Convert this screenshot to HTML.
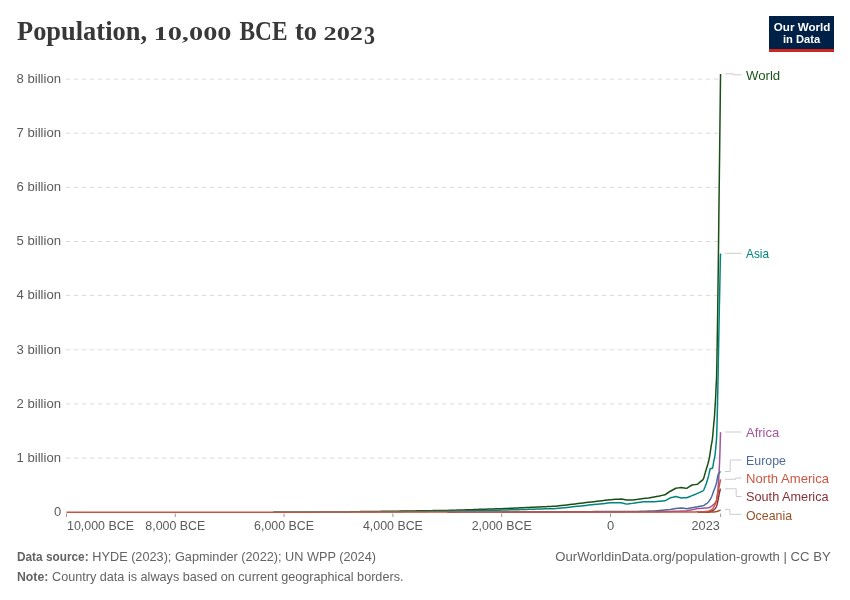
<!DOCTYPE html>
<html><head><meta charset="utf-8"><style>
html,body{margin:0;padding:0;background:#fff;overflow:hidden;width:850px;height:600px;}
svg{display:block;will-change:transform;}
text{font-family:"Liberation Sans",sans-serif;}
.serif text{font-family:"Liberation Serif",serif;}
</style></head><body>
<svg width="850" height="600" viewBox="0 0 850 600">
<rect width="850" height="600" fill="#fff"/>
<g class="serif" font-weight="bold" fill="#383838">
<text x="17" y="39.6" font-size="27.5" textLength="130" lengthAdjust="spacingAndGlyphs">Population,</text>
<text x="153.5" y="40.1" font-size="19.5" textLength="78" lengthAdjust="spacingAndGlyphs">10,000</text>
<text x="239.5" y="39.6" font-size="27.5" textLength="48" lengthAdjust="spacingAndGlyphs">BCE</text>
<text x="295" y="39.6" font-size="27.5" textLength="22" lengthAdjust="spacingAndGlyphs">to</text>
<text x="323.5" y="40.1" font-size="19.5" textLength="39.5" lengthAdjust="spacingAndGlyphs">202</text>
<text x="364" y="43.6" font-size="24.5" textLength="11" lengthAdjust="spacingAndGlyphs">3</text>
</g>
<rect x="769" y="16" width="65" height="36" fill="#002147"/>
<rect x="769" y="49" width="65" height="3" fill="#ce261e"/>
<text x="773.8" y="30.5" font-size="11.5" font-weight="bold" fill="#fff" textLength="56.5" lengthAdjust="spacingAndGlyphs">Our World</text>
<text x="783" y="42.5" font-size="11.5" font-weight="bold" fill="#fff" textLength="37.2" lengthAdjust="spacingAndGlyphs">in Data</text>
<g stroke="#dbdbdb" stroke-width="1" stroke-dasharray="4.5,3.5"><line x1="66" y1="458.1" x2="720" y2="458.1"/><line x1="66" y1="403.9" x2="720" y2="403.9"/><line x1="66" y1="349.8" x2="720" y2="349.8"/><line x1="66" y1="295.6" x2="720" y2="295.6"/><line x1="66" y1="241.5" x2="720" y2="241.5"/><line x1="66" y1="187.4" x2="720" y2="187.4"/><line x1="66" y1="133.2" x2="720" y2="133.2"/><line x1="66" y1="79.1" x2="720" y2="79.1"/></g>
<g font-size="13" fill="#5b5b5b"><text x="61" y="461.9" text-anchor="end" textLength="44.5" lengthAdjust="spacingAndGlyphs">1 billion</text><text x="61" y="407.8" text-anchor="end" textLength="44.5" lengthAdjust="spacingAndGlyphs">2 billion</text><text x="61" y="353.6" text-anchor="end" textLength="44.5" lengthAdjust="spacingAndGlyphs">3 billion</text><text x="61" y="299.4" text-anchor="end" textLength="44.5" lengthAdjust="spacingAndGlyphs">4 billion</text><text x="61" y="245.3" text-anchor="end" textLength="44.5" lengthAdjust="spacingAndGlyphs">5 billion</text><text x="61" y="191.2" text-anchor="end" textLength="44.5" lengthAdjust="spacingAndGlyphs">6 billion</text><text x="61" y="137.0" text-anchor="end" textLength="44.5" lengthAdjust="spacingAndGlyphs">7 billion</text><text x="61" y="82.9" text-anchor="end" textLength="44.5" lengthAdjust="spacingAndGlyphs">8 billion</text><text x="61.3" y="516" text-anchor="end">0</text></g>
<g stroke="#9a9a9a" stroke-width="1"><line x1="66.5" y1="513.5" x2="66.5" y2="517"/><line x1="175.3" y1="513.5" x2="175.3" y2="517"/><line x1="284.1" y1="513.5" x2="284.1" y2="517"/><line x1="392.9" y1="513.5" x2="392.9" y2="517"/><line x1="501.7" y1="513.5" x2="501.7" y2="517"/><line x1="610.5" y1="513.5" x2="610.5" y2="517"/><line x1="720.6" y1="513.5" x2="720.6" y2="517"/></g>
<g font-size="13" fill="#5b5b5b"><text x="67" y="530.3" textLength="67" lengthAdjust="spacingAndGlyphs">10,000 BCE</text><text x="175.3" y="530.3" text-anchor="middle" textLength="60" lengthAdjust="spacingAndGlyphs">8,000 BCE</text><text x="284.1" y="530.3" text-anchor="middle" textLength="60" lengthAdjust="spacingAndGlyphs">6,000 BCE</text><text x="392.9" y="530.3" text-anchor="middle" textLength="60" lengthAdjust="spacingAndGlyphs">4,000 BCE</text><text x="501.7" y="530.3" text-anchor="middle" textLength="60" lengthAdjust="spacingAndGlyphs">2,000 BCE</text><text x="610.5" y="530.3" text-anchor="middle">0</text><text x="719.8" y="530.3" text-anchor="end" textLength="28.3" lengthAdjust="spacingAndGlyphs">2023</text></g>
<g fill="none" stroke-width="1.5" stroke-linejoin="round" stroke-linecap="butt">
<path d="M360.26,511.60 L362.98,511.57 L365.70,511.54 L368.42,511.51 L371.14,511.47 L373.86,511.44 L376.58,511.41 L379.30,511.38 L382.02,511.35 L384.74,511.32 L387.46,511.28 L390.18,511.25 L392.90,511.22 L395.62,511.18 L398.34,511.14 L401.06,511.10 L403.78,511.06 L406.50,511.02 L409.22,510.98 L411.94,510.94 L414.66,510.90 L417.38,510.86 L420.10,510.82 L422.82,510.77 L425.54,510.73 L428.26,510.69 L430.98,510.65 L433.70,510.61 L436.42,510.57 L439.14,510.53 L441.86,510.49 L444.58,510.45 L447.30,510.41 L450.02,510.32 L452.74,510.24 L455.46,510.15 L458.18,510.06 L460.90,509.98 L463.62,509.89 L466.34,509.80 L469.06,509.72 L471.78,509.63 L474.50,509.54 L477.22,509.46 L479.94,509.37 L482.66,509.28 L485.38,509.20 L488.10,509.11 L490.82,509.02 L493.54,508.94 L496.26,508.85 L498.98,508.76 L501.70,508.68 L504.42,508.55 L507.14,508.43 L509.86,508.30 L512.58,508.18 L515.30,508.05 L518.02,507.93 L520.74,507.80 L523.46,507.68 L526.18,507.56 L528.90,507.43 L531.62,507.31 L534.34,507.18 L537.06,507.06 L539.78,506.93 L542.50,506.81 L545.22,506.68 L547.94,506.56 L550.66,506.43 L553.38,506.31 L556.10,506.19 L558.82,505.86 L561.54,505.54 L564.26,505.21 L566.98,504.89 L569.70,504.56 L572.42,504.24 L575.14,503.91 L577.86,503.59 L580.58,503.26 L583.30,502.94 L586.02,502.61 L588.74,502.29 L591.46,501.96 L594.18,501.64 L596.90,501.31 L599.62,500.99 L602.34,500.66 L605.06,500.34 L607.78,500.01 L610.50,499.69 L613.22,499.52 L615.94,499.36 L618.66,499.20 L621.38,499.04 L624.10,499.52 L626.82,500.01 L629.54,499.96 L632.26,499.90 L634.98,499.63 L637.70,499.36 L640.42,498.98 L643.14,498.60 L645.86,498.33 L648.58,498.06 L651.30,497.58 L654.02,497.09 L656.74,496.55 L659.46,496.00 L662.18,495.38 L664.90,494.76 L667.62,493.00 L670.34,491.24 L673.06,489.75 L675.78,488.26 L678.50,487.88 L681.22,487.50 L683.94,487.94 L686.66,488.37 L689.38,486.69 L692.10,485.01 L694.82,484.63 L697.54,484.25 L700.26,481.93 L702.98,479.60 L703.20,479.23 L703.42,478.76 L703.52,478.50 L703.63,478.21 L703.74,477.90 L703.85,477.58 L703.96,477.24 L704.07,476.89 L704.18,476.53 L704.29,476.15 L704.39,475.77 L704.50,475.38 L704.61,474.99 L704.72,474.59 L704.83,474.19 L704.94,473.79 L705.05,473.38 L705.16,472.99 L705.26,472.59 L705.37,472.21 L705.48,471.83 L705.59,471.46 L705.70,471.10 L705.81,470.74 L705.92,470.39 L706.03,470.04 L706.14,469.70 L706.24,469.35 L706.35,469.00 L706.46,468.66 L706.57,468.31 L706.68,467.96 L706.79,467.61 L706.90,467.26 L707.01,466.90 L707.11,466.55 L707.22,466.19 L707.33,465.82 L707.44,465.46 L707.55,465.08 L707.66,464.71 L707.77,464.32 L707.88,463.93 L707.98,463.54 L708.09,463.14 L708.20,462.73 L708.31,462.31 L708.42,461.89 L708.53,461.46 L708.64,461.02 L708.75,460.57 L708.86,460.11 L708.96,459.64 L709.07,459.15 L709.18,458.64 L709.29,458.12 L709.40,457.58 L709.51,457.02 L709.62,456.42 L709.73,455.78 L709.83,455.10 L709.94,454.39 L710.05,453.65 L710.16,452.90 L710.27,452.13 L710.38,451.35 L710.49,450.57 L710.60,449.80 L710.70,449.03 L710.81,448.28 L710.92,447.55 L711.03,446.85 L711.14,446.19 L711.25,445.56 L711.36,444.98 L711.47,444.43 L711.58,443.90 L711.68,443.36 L711.79,442.81 L711.90,442.24 L712.01,441.63 L712.12,440.96 L712.23,440.23 L712.34,439.41 L712.45,438.49 L712.55,437.48 L712.66,436.41 L712.77,435.26 L712.88,434.07 L712.99,432.84 L713.10,431.57 L713.21,430.30 L713.32,429.01 L713.42,427.73 L713.53,426.47 L713.64,425.24 L713.75,424.04 L713.86,422.90 L713.97,421.84 L714.08,420.84 L714.19,419.82 L714.30,418.73 L714.40,417.49 L714.51,416.01 L714.62,414.31 L714.73,412.48 L714.84,410.62 L714.95,408.82 L715.06,407.14 L715.17,405.51 L715.27,403.85 L715.38,402.09 L715.49,400.16 L715.60,397.93 L715.71,395.41 L715.82,392.77 L715.93,390.15 L716.04,387.71 L716.14,385.62 L716.25,383.80 L716.36,381.94 L716.47,379.74 L716.58,376.93 L716.69,372.41 L716.80,366.48 L716.91,360.73 L717.02,354.92 L717.12,348.77 L717.23,342.13 L717.34,335.07 L717.45,327.74 L717.56,320.05 L717.67,312.17 L717.78,304.12 L717.89,295.93 L717.99,287.84 L718.10,279.87 L718.21,271.61 L718.32,262.82 L718.43,253.66 L718.54,244.16 L718.65,234.21 L718.76,224.39 L718.86,214.98 L718.97,205.79 L719.08,196.80 L719.19,188.03 L719.30,179.28 L719.41,170.48 L719.52,161.63 L719.63,152.58 L719.74,143.33 L719.84,133.96 L719.95,124.45 L720.06,114.87 L720.17,105.41 L720.28,95.97 L720.39,86.85 L720.50,78.22 L720.55,74.07" stroke="#1a4e16"/>
<path d="M273.22,512.09 L275.94,512.08 L278.66,512.07 L281.38,512.07 L284.10,512.06 L286.82,512.05 L289.54,512.05 L292.26,512.04 L294.98,512.03 L297.70,512.03 L300.42,512.02 L303.14,512.01 L305.86,512.01 L308.58,512.00 L311.30,511.99 L314.02,511.99 L316.74,511.98 L319.46,511.97 L322.18,511.97 L324.90,511.96 L327.62,511.95 L330.34,511.95 L333.06,511.94 L335.78,511.93 L338.50,511.93 L341.22,511.91 L343.94,511.90 L346.66,511.89 L349.38,511.88 L352.10,511.87 L354.82,511.86 L357.54,511.85 L360.26,511.84 L362.98,511.83 L365.70,511.82 L368.42,511.81 L371.14,511.80 L373.86,511.78 L376.58,511.77 L379.30,511.76 L382.02,511.75 L384.74,511.74 L387.46,511.73 L390.18,511.72 L392.90,511.71 L395.62,511.68 L398.34,511.65 L401.06,511.63 L403.78,511.60 L406.50,511.57 L409.22,511.55 L411.94,511.52 L414.66,511.49 L417.38,511.46 L420.10,511.44 L422.82,511.41 L425.54,511.38 L428.26,511.36 L430.98,511.33 L433.70,511.30 L436.42,511.28 L439.14,511.25 L441.86,511.22 L444.58,511.19 L447.30,511.17 L450.02,511.11 L452.74,511.06 L455.46,511.00 L458.18,510.95 L460.90,510.90 L463.62,510.84 L466.34,510.79 L469.06,510.73 L471.78,510.68 L474.50,510.63 L477.22,510.57 L479.94,510.52 L482.66,510.46 L485.38,510.41 L488.10,510.35 L490.82,510.30 L493.54,510.25 L496.26,510.19 L498.98,510.14 L501.70,510.08 L504.42,510.01 L507.14,509.93 L509.86,509.86 L512.58,509.78 L515.30,509.70 L518.02,509.63 L520.74,509.55 L523.46,509.48 L526.18,509.40 L528.90,509.33 L531.62,509.25 L534.34,509.17 L537.06,509.10 L539.78,509.02 L542.50,508.95 L545.22,508.87 L547.94,508.80 L550.66,508.72 L553.38,508.64 L556.10,508.57 L558.82,508.28 L561.54,507.99 L564.26,507.71 L566.98,507.42 L569.70,507.13 L572.42,506.85 L575.14,506.56 L577.86,506.27 L580.58,505.98 L583.30,505.70 L586.02,505.41 L588.74,505.12 L591.46,504.84 L594.18,504.55 L596.90,504.26 L599.62,503.98 L602.34,503.69 L605.06,503.40 L607.78,503.11 L610.50,502.83 L613.22,502.83 L615.94,502.83 L618.66,502.83 L621.38,502.83 L624.10,503.48 L626.82,504.13 L629.54,503.75 L632.26,503.37 L634.98,502.99 L637.70,502.61 L640.42,502.23 L643.14,501.85 L645.86,501.85 L648.58,501.85 L651.30,501.85 L654.02,501.85 L656.74,501.60 L659.46,501.34 L662.18,501.08 L664.90,500.82 L667.62,499.34 L670.34,497.85 L673.06,497.20 L675.78,496.55 L678.50,497.28 L681.22,498.01 L683.94,497.87 L686.66,497.74 L689.38,496.69 L692.10,495.65 L694.82,494.56 L697.54,493.31 L700.26,492.06 L702.98,490.81 L703.31,490.46 L703.52,490.14 L703.74,489.78 L703.96,489.37 L704.18,488.92 L704.39,488.43 L704.50,488.18 L704.61,487.92 L704.72,487.65 L704.83,487.39 L704.94,487.11 L705.05,486.84 L705.16,486.56 L705.26,486.28 L705.37,486.00 L705.48,485.73 L705.59,485.45 L705.70,485.18 L705.81,484.90 L705.92,484.61 L706.03,484.32 L706.14,484.01 L706.24,483.70 L706.35,483.38 L706.46,483.06 L706.57,482.72 L706.68,482.39 L706.79,482.04 L706.90,481.69 L707.01,481.34 L707.11,480.98 L707.22,480.62 L707.33,480.26 L707.44,479.89 L707.55,479.52 L707.66,479.14 L707.77,478.77 L707.88,478.39 L707.98,478.02 L708.09,477.64 L708.20,477.26 L708.31,476.89 L708.42,476.51 L708.53,476.11 L708.64,475.68 L708.75,475.20 L708.86,474.71 L708.96,474.19 L709.07,473.65 L709.18,473.11 L709.29,472.57 L709.40,472.04 L709.51,471.51 L709.62,471.01 L709.73,470.53 L709.83,470.08 L709.94,469.67 L710.05,469.31 L710.16,468.99 L710.27,468.74 L710.49,468.43 L710.81,468.39 L711.14,468.39 L711.47,468.39 L711.79,468.39 L712.12,468.39 L712.45,468.14 L712.55,467.85 L712.66,467.47 L712.77,467.01 L712.88,466.47 L712.99,465.89 L713.10,465.26 L713.21,464.61 L713.32,463.94 L713.42,463.26 L713.53,462.60 L713.64,461.96 L713.75,461.36 L713.86,460.81 L713.97,460.30 L714.08,459.80 L714.19,459.32 L714.30,458.84 L714.40,458.35 L714.51,457.84 L714.62,457.29 L714.73,456.71 L714.84,456.08 L714.95,455.39 L715.06,454.62 L715.17,453.74 L715.27,452.77 L715.38,451.73 L715.49,450.62 L715.60,449.46 L715.71,448.27 L715.82,447.04 L715.93,445.80 L716.04,444.56 L716.14,443.36 L716.25,442.17 L716.36,440.88 L716.47,439.38 L716.58,437.58 L716.69,435.14 L716.80,431.96 L716.91,428.26 L717.02,424.27 L717.12,420.19 L717.23,415.93 L717.34,411.29 L717.45,406.37 L717.56,401.29 L717.67,396.15 L717.78,390.95 L717.89,385.58 L717.99,380.08 L718.10,374.47 L718.21,368.75 L718.32,362.85 L718.43,356.75 L718.54,350.57 L718.65,344.42 L718.76,338.43 L718.86,332.57 L718.97,326.76 L719.08,321.04 L719.19,315.42 L719.30,309.95 L719.41,304.65 L719.52,299.53 L719.63,294.48 L719.74,289.42 L719.84,284.28 L719.95,278.75 L720.06,272.89 L720.17,267.14 L720.28,261.94 L720.39,257.75 L720.50,254.66 L720.55,253.41" stroke="#00847e"/>
<path d="M501.70,512.14 L504.42,512.14 L507.14,512.13 L509.86,512.13 L512.58,512.13 L515.30,512.12 L518.02,512.12 L520.74,512.11 L523.46,512.11 L526.18,512.11 L528.90,512.10 L531.62,512.10 L534.34,512.09 L537.06,512.09 L539.78,512.08 L542.50,512.08 L545.22,512.08 L547.94,512.07 L550.66,512.07 L553.38,512.06 L556.10,512.06 L558.82,512.06 L561.54,512.05 L564.26,512.05 L566.98,512.04 L569.70,512.04 L572.42,512.04 L575.14,512.03 L577.86,512.03 L580.58,512.02 L583.30,512.02 L586.02,512.02 L588.74,512.01 L591.46,512.01 L594.18,512.00 L596.90,512.00 L599.62,512.00 L602.34,511.99 L605.06,511.99 L607.78,511.98 L610.50,511.98 L613.22,511.96 L615.94,511.94 L618.66,511.92 L621.38,511.90 L624.10,511.88 L626.82,511.87 L629.54,511.85 L632.26,511.83 L634.98,511.81 L637.70,511.79 L640.42,511.77 L643.14,511.75 L645.86,511.73 L648.58,511.71 L651.30,511.69 L654.02,511.68 L656.74,511.66 L659.46,511.64 L662.18,511.62 L664.90,511.60 L667.62,511.51 L670.34,511.42 L673.06,511.34 L675.78,511.25 L678.50,511.16 L681.22,511.07 L683.94,510.98 L686.66,510.90 L689.38,510.35 L692.10,509.81 L694.82,509.19 L697.54,508.57 L700.26,508.38 L702.98,508.19 L703.31,508.17 L703.63,508.14 L703.96,508.12 L704.29,508.10 L704.61,508.09 L704.94,508.07 L705.26,508.05 L705.59,508.03 L705.92,508.01 L706.24,507.98 L706.57,507.96 L706.90,507.93 L707.22,507.90 L707.55,507.87 L707.88,507.83 L708.20,507.79 L708.53,507.74 L708.86,507.66 L709.18,507.56 L709.51,507.43 L709.83,507.28 L710.16,507.12 L710.49,506.94 L710.81,506.76 L711.14,506.56 L711.47,506.35 L711.79,506.09 L712.12,505.81 L712.45,505.50 L712.77,505.19 L713.10,504.87 L713.42,504.57 L713.75,504.28 L714.08,503.98 L714.40,503.67 L714.73,503.31 L714.95,503.04 L715.17,502.76 L715.38,502.45 L715.60,502.12 L715.82,501.74 L716.04,501.31 L716.25,500.81 L716.36,500.53 L716.47,500.23 L716.58,499.90 L716.69,499.49 L716.80,498.96 L716.91,498.33 L717.02,497.64 L717.12,496.93 L717.23,496.17 L717.34,495.34 L717.45,494.44 L717.56,493.49 L717.67,492.49 L717.78,491.42 L717.89,490.28 L717.99,489.07 L718.10,487.78 L718.21,486.42 L718.32,484.95 L718.43,483.37 L718.54,481.69 L718.65,479.94 L718.76,478.14 L718.86,476.27 L718.97,474.33 L719.08,472.30 L719.19,470.18 L719.30,467.96 L719.41,465.65 L719.52,463.25 L719.63,460.71 L719.74,458.02 L719.84,455.12 L719.95,451.85 L720.06,448.20 L720.17,444.37 L720.28,440.56 L720.39,436.98 L720.50,433.70 L720.55,432.11" stroke="#a2559c"/>
<path d="M447.30,512.14 L450.02,512.14 L452.74,512.13 L455.46,512.13 L458.18,512.12 L460.90,512.11 L463.62,512.11 L466.34,512.10 L469.06,512.10 L471.78,512.09 L474.50,512.09 L477.22,512.08 L479.94,512.08 L482.66,512.07 L485.38,512.07 L488.10,512.06 L490.82,512.06 L493.54,512.05 L496.26,512.04 L498.98,512.04 L501.70,512.03 L504.42,512.03 L507.14,512.02 L509.86,512.02 L512.58,512.01 L515.30,512.01 L518.02,512.00 L520.74,512.00 L523.46,511.99 L526.18,511.98 L528.90,511.98 L531.62,511.97 L534.34,511.97 L537.06,511.96 L539.78,511.96 L542.50,511.95 L545.22,511.95 L547.94,511.94 L550.66,511.94 L553.38,511.93 L556.10,511.93 L558.82,511.90 L561.54,511.88 L564.26,511.86 L566.98,511.84 L569.70,511.82 L572.42,511.80 L575.14,511.77 L577.86,511.75 L580.58,511.73 L583.30,511.71 L586.02,511.69 L588.74,511.67 L591.46,511.64 L594.18,511.62 L596.90,511.60 L599.62,511.58 L602.34,511.56 L605.06,511.54 L607.78,511.51 L610.50,511.49 L613.22,511.48 L615.94,511.47 L618.66,511.46 L621.38,511.45 L624.10,511.44 L626.82,511.43 L629.54,511.42 L632.26,511.41 L634.98,511.39 L637.70,511.38 L640.42,511.30 L643.14,511.22 L645.86,511.14 L648.58,511.06 L651.30,510.98 L654.02,510.90 L656.74,510.67 L659.46,510.44 L662.18,510.21 L664.90,509.98 L667.62,509.76 L670.34,509.54 L673.06,509.00 L675.78,508.46 L678.50,508.19 L681.22,507.92 L683.94,508.32 L686.66,508.73 L689.38,508.19 L692.10,507.65 L694.82,507.24 L697.54,506.83 L700.26,506.29 L702.98,505.75 L703.31,505.63 L703.63,505.48 L703.96,505.30 L704.29,505.10 L704.61,504.88 L704.94,504.66 L705.26,504.43 L705.59,504.20 L705.92,503.98 L706.24,503.76 L706.57,503.53 L706.90,503.30 L707.22,503.05 L707.55,502.78 L707.88,502.50 L708.20,502.19 L708.53,501.84 L708.75,501.59 L708.96,501.31 L709.18,501.02 L709.40,500.70 L709.62,500.37 L709.83,500.02 L710.05,499.65 L710.27,499.27 L710.49,498.88 L710.70,498.47 L710.92,498.05 L711.14,497.63 L711.36,497.18 L711.58,496.70 L711.68,496.45 L711.79,496.19 L711.90,495.93 L712.01,495.66 L712.12,495.38 L712.23,495.10 L712.34,494.82 L712.45,494.53 L712.55,494.24 L712.66,493.94 L712.77,493.64 L712.88,493.34 L712.99,493.03 L713.10,492.73 L713.21,492.42 L713.32,492.12 L713.42,491.81 L713.53,491.50 L713.64,491.20 L713.75,490.89 L713.86,490.59 L713.97,490.29 L714.08,490.00 L714.19,489.71 L714.30,489.43 L714.40,489.14 L714.51,488.86 L714.62,488.58 L714.73,488.30 L714.84,488.02 L714.95,487.73 L715.06,487.44 L715.17,487.15 L715.27,486.85 L715.38,486.55 L715.49,486.24 L715.60,485.91 L715.71,485.58 L715.82,485.24 L715.93,484.89 L716.04,484.52 L716.14,484.14 L716.25,483.75 L716.36,483.34 L716.47,482.91 L716.58,482.47 L716.69,481.95 L716.80,481.35 L716.91,480.70 L717.02,480.05 L717.12,479.44 L717.23,478.85 L717.34,478.27 L717.45,477.70 L717.56,477.17 L717.67,476.67 L717.78,476.22 L717.89,475.80 L717.99,475.40 L718.10,475.02 L718.21,474.67 L718.32,474.32 L718.43,473.96 L718.54,473.63 L718.65,473.36 L718.97,473.08 L719.30,472.94 L719.63,472.63 L719.95,472.27 L720.17,471.99 L720.50,471.91 L720.55,471.96" stroke="#4c6a9c"/>
<path d="M697.54,511.90 L700.26,511.85 L702.98,511.86 L703.31,511.85 L703.63,511.84 L703.96,511.84 L704.29,511.83 L704.61,511.82 L704.94,511.82 L705.26,511.81 L705.59,511.80 L705.92,511.79 L706.24,511.78 L706.57,511.77 L706.90,511.76 L707.22,511.75 L707.55,511.74 L707.88,511.73 L708.20,511.72 L708.53,511.70 L708.86,511.67 L709.18,511.63 L709.51,511.57 L709.83,511.50 L710.16,511.42 L710.49,511.34 L710.81,511.25 L711.14,511.17 L711.47,511.08 L711.79,510.99 L712.12,510.89 L712.45,510.77 L712.77,510.63 L713.10,510.43 L713.42,510.18 L713.75,509.91 L714.08,509.62 L714.40,509.32 L714.73,508.98 L714.95,508.73 L715.17,508.46 L715.38,508.18 L715.60,507.88 L715.82,507.55 L716.04,507.18 L716.25,506.78 L716.47,506.32 L716.69,505.79 L716.80,505.44 L716.91,505.06 L717.02,504.65 L717.12,504.24 L717.23,503.81 L717.34,503.36 L717.45,502.89 L717.56,502.40 L717.67,501.91 L717.78,501.40 L717.89,500.89 L717.99,500.35 L718.10,499.81 L718.21,499.25 L718.32,498.68 L718.43,498.08 L718.54,497.47 L718.65,496.87 L718.76,496.28 L718.86,495.70 L718.97,495.12 L719.08,494.55 L719.19,493.99 L719.30,493.46 L719.41,492.94 L719.52,492.44 L719.63,491.96 L719.74,491.48 L719.84,491.02 L719.95,490.54 L720.06,490.03 L720.17,489.55 L720.28,489.16 L720.50,488.78 L720.55,488.75" stroke="#883039"/>
<path d="M697.54,512.17 L700.26,512.16 L702.98,512.16 L703.31,512.16 L703.63,512.16 L703.96,512.16 L704.29,512.16 L704.61,512.16 L704.94,512.16 L705.26,512.16 L705.59,512.15 L705.92,512.15 L706.24,512.15 L706.57,512.15 L706.90,512.15 L707.22,512.15 L707.55,512.15 L707.88,512.14 L708.20,512.14 L708.53,512.14 L708.86,512.14 L709.18,512.13 L709.51,512.13 L709.83,512.12 L710.16,512.11 L710.49,512.10 L710.81,512.09 L711.14,512.07 L711.47,512.06 L711.79,512.04 L712.12,512.03 L712.45,512.01 L712.77,511.99 L713.10,511.97 L713.42,511.95 L713.75,511.93 L714.08,511.91 L714.40,511.88 L714.73,511.85 L715.06,511.81 L715.38,511.77 L715.71,511.72 L716.04,511.67 L716.36,511.61 L716.69,511.54 L717.02,511.43 L717.34,511.31 L717.67,511.18 L717.99,511.07 L718.32,510.96 L718.65,510.84 L718.97,510.72 L719.30,510.57 L719.63,510.40 L719.95,510.19 L720.28,509.96 L720.55,509.76" stroke="#9a5129"/>
<path d="M66.50,512.22 L69.22,512.22 L71.94,512.22 L74.66,512.22 L77.38,512.22 L80.10,512.22 L82.82,512.22 L85.54,512.22 L88.26,512.21 L90.98,512.21 L93.70,512.21 L96.42,512.21 L99.14,512.21 L101.86,512.21 L104.58,512.21 L107.30,512.21 L110.02,512.21 L112.74,512.20 L115.46,512.20 L118.18,512.20 L120.90,512.20 L123.62,512.20 L126.34,512.20 L129.06,512.20 L131.78,512.20 L134.50,512.20 L137.22,512.20 L139.94,512.19 L142.66,512.19 L145.38,512.19 L148.10,512.19 L150.82,512.19 L153.54,512.19 L156.26,512.19 L158.98,512.19 L161.70,512.19 L164.42,512.18 L167.14,512.18 L169.86,512.18 L172.58,512.18 L175.30,512.18 L178.02,512.18 L180.74,512.18 L183.46,512.18 L186.18,512.18 L188.90,512.18 L191.62,512.17 L194.34,512.17 L197.06,512.17 L199.78,512.17 L202.50,512.17 L205.22,512.17 L207.94,512.17 L210.66,512.17 L213.38,512.17 L216.10,512.16 L218.82,512.16 L221.54,512.16 L224.26,512.16 L226.98,512.16 L229.70,512.16 L232.42,512.16 L235.14,512.16 L237.86,512.16 L240.58,512.16 L243.30,512.15 L246.02,512.15 L248.74,512.15 L251.46,512.15 L254.18,512.15 L256.90,512.15 L259.62,512.15 L262.34,512.15 L265.06,512.15 L267.78,512.14 L270.50,512.14 L273.22,512.14 L275.94,512.14 L278.66,512.14 L281.38,512.14 L284.10,512.14 L286.82,512.14 L289.54,512.14 L292.26,512.13 L294.98,512.13 L297.70,512.13 L300.42,512.13 L303.14,512.13 L305.86,512.13 L308.58,512.13 L311.30,512.13 L314.02,512.13 L316.74,512.13 L319.46,512.12 L322.18,512.12 L324.90,512.12 L327.62,512.12 L330.34,512.12 L333.06,512.12 L335.78,512.12 L338.50,512.12 L341.22,512.12 L343.94,512.11 L346.66,512.11 L349.38,512.11 L352.10,512.11 L354.82,512.11 L357.54,512.11 L360.26,512.11 L362.98,512.11 L365.70,512.11 L368.42,512.11 L371.14,512.10 L373.86,512.10 L376.58,512.10 L379.30,512.10 L382.02,512.10 L384.74,512.10 L387.46,512.10 L390.18,512.10 L392.90,512.10 L395.62,512.09 L398.34,512.09 L401.06,512.09 L403.78,512.09 L406.50,512.09 L409.22,512.09 L411.94,512.09 L414.66,512.09 L417.38,512.09 L420.10,512.09 L422.82,512.08 L425.54,512.08 L428.26,512.08 L430.98,512.08 L433.70,512.08 L436.42,512.08 L439.14,512.08 L441.86,512.08 L444.58,512.08 L447.30,512.07 L450.02,512.07 L452.74,512.07 L455.46,512.07 L458.18,512.07 L460.90,512.07 L463.62,512.07 L466.34,512.07 L469.06,512.07 L471.78,512.07 L474.50,512.06 L477.22,512.06 L479.94,512.06 L482.66,512.06 L485.38,512.06 L488.10,512.06 L490.82,512.06 L493.54,512.06 L496.26,512.06 L498.98,512.05 L501.70,512.05 L504.42,512.05 L507.14,512.05 L509.86,512.05 L512.58,512.05 L515.30,512.05 L518.02,512.05 L520.74,512.05 L523.46,512.04 L526.18,512.04 L528.90,512.04 L531.62,512.04 L534.34,512.04 L537.06,512.04 L539.78,512.04 L542.50,512.04 L545.22,512.04 L547.94,512.04 L550.66,512.03 L553.38,512.03 L556.10,512.03 L558.82,512.03 L561.54,512.03 L564.26,512.03 L566.98,512.03 L569.70,512.03 L572.42,512.03 L575.14,512.02 L577.86,512.02 L580.58,512.02 L583.30,512.02 L586.02,512.02 L588.74,512.02 L591.46,512.02 L594.18,512.02 L596.90,512.02 L599.62,512.02 L602.34,512.01 L605.06,512.01 L607.78,512.01 L610.50,512.01 L613.22,512.01 L615.94,512.01 L618.66,512.01 L621.38,512.01 L624.10,512.01 L626.82,512.00 L629.54,512.00 L632.26,512.00 L634.98,512.00 L637.70,512.00 L640.42,512.00 L643.14,512.00 L645.86,512.00 L648.58,512.00 L651.30,512.00 L654.02,511.99 L656.74,511.99 L659.46,511.99 L662.18,511.99 L664.90,511.99 L667.62,511.99 L670.34,511.99 L673.06,511.99 L675.78,511.99 L678.50,511.98 L681.22,511.98 L683.94,511.98 L686.66,511.98 L689.38,511.98 L692.10,511.98 L694.82,511.91 L697.54,511.84 L700.26,511.78 L702.98,511.71 L703.31,511.69 L703.63,511.68 L703.96,511.66 L704.29,511.64 L704.61,511.62 L704.94,511.60 L705.26,511.57 L705.59,511.54 L705.92,511.51 L706.24,511.48 L706.57,511.44 L706.90,511.40 L707.22,511.36 L707.55,511.31 L707.88,511.26 L708.20,511.21 L708.53,511.15 L708.86,511.06 L709.18,510.93 L709.51,510.78 L709.83,510.61 L710.16,510.42 L710.49,510.22 L710.81,510.02 L711.14,509.81 L711.47,509.60 L711.79,509.37 L712.12,509.10 L712.45,508.78 L712.77,508.41 L712.99,508.13 L713.21,507.83 L713.42,507.51 L713.64,507.18 L713.86,506.83 L714.08,506.47 L714.30,506.06 L714.51,505.63 L714.73,505.16 L714.95,504.67 L715.06,504.41 L715.17,504.16 L715.27,503.90 L715.38,503.63 L715.49,503.36 L715.60,503.08 L715.71,502.79 L715.82,502.49 L715.93,502.17 L716.04,501.85 L716.14,501.50 L716.25,501.15 L716.36,500.77 L716.47,500.37 L716.58,499.96 L716.69,499.48 L716.80,498.92 L716.91,498.31 L717.02,497.69 L717.12,497.09 L717.23,496.51 L717.34,495.93 L717.45,495.35 L717.56,494.78 L717.67,494.22 L717.78,493.67 L717.89,493.13 L717.99,492.59 L718.10,492.05 L718.21,491.51 L718.32,490.97 L718.43,490.42 L718.54,489.87 L718.65,489.32 L718.76,488.75 L718.86,488.17 L718.97,487.57 L719.08,486.96 L719.19,486.36 L719.30,485.77 L719.41,485.19 L719.52,484.61 L719.63,484.03 L719.74,483.46 L719.84,482.90 L719.95,482.35 L720.06,481.82 L720.17,481.28 L720.28,480.75 L720.39,480.19 L720.50,479.62 L720.55,479.33" stroke="#c9533d"/>
</g>
<g fill="none" stroke="#cccccc" stroke-width="1">
<path d="M725,73.8 H733 V74.8 H741.5"/>
<path d="M725,253.3 H741.5"/>
<path d="M725,432 H741.5"/>
<path d="M725,471.5 H730.2 V460 H741.5"/>
<path d="M725,479.3 H735.5 V478 H741.5"/>
<path d="M725,488.8 H736.2 V496.5 H741.5"/>
<path d="M725,509.4 H729.8 V514.3 H741.5"/>
</g>
<g font-size="13"><text x="746" y="79.7" fill="#1c5519" textLength="34.2" lengthAdjust="spacingAndGlyphs">World</text><text x="746" y="258.1" fill="#00847e" textLength="23" lengthAdjust="spacingAndGlyphs">Asia</text><text x="746" y="437" fill="#a2559c" textLength="33.2" lengthAdjust="spacingAndGlyphs">Africa</text><text x="746" y="464.9" fill="#4c6a9c" textLength="39.9" lengthAdjust="spacingAndGlyphs">Europe</text><text x="746" y="482.8" fill="#cc5843" textLength="83.1" lengthAdjust="spacingAndGlyphs">North America</text><text x="746" y="501.2" fill="#883039" textLength="82.6" lengthAdjust="spacingAndGlyphs">South America</text><text x="746" y="519.5" fill="#9a5129" textLength="46" lengthAdjust="spacingAndGlyphs">Oceania</text></g>
<g font-size="13" fill="#636363">
<text x="17" y="561" font-weight="bold" textLength="71.6" lengthAdjust="spacingAndGlyphs">Data source:</text>
<text x="92.3" y="561" textLength="283.7" lengthAdjust="spacingAndGlyphs">HYDE (2023); Gapminder (2022); UN WPP (2024)</text>
<text x="17" y="580.8" font-weight="bold" textLength="31.3" lengthAdjust="spacingAndGlyphs">Note:</text>
<text x="52" y="580.8" textLength="351.5" lengthAdjust="spacingAndGlyphs">Country data is always based on current geographical borders.</text>
<text x="830.7" y="561" text-anchor="end" textLength="275.4" lengthAdjust="spacingAndGlyphs">OurWorldinData.org/population-growth | CC BY</text>
</g>
</svg>
</body></html>
